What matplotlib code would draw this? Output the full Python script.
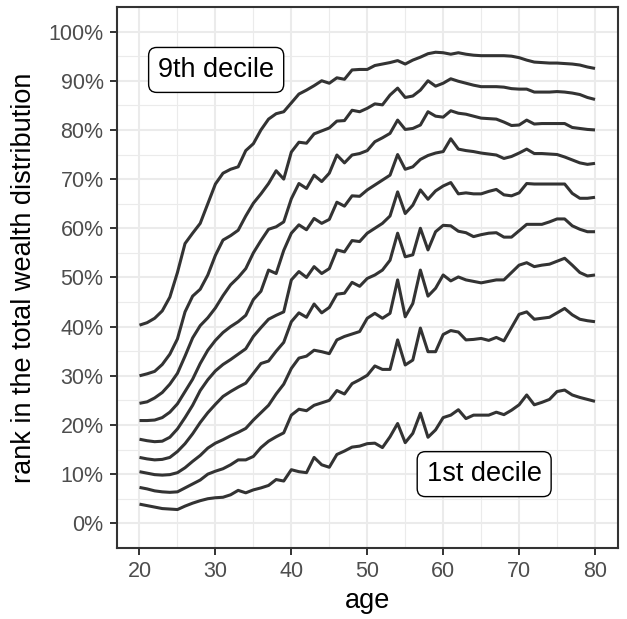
import matplotlib
matplotlib.use("Agg")
import matplotlib.pyplot as plt
import numpy as np
from matplotlib.ticker import MultipleLocator, FuncFormatter

plt.rcParams['font.family'] = ['Liberation Sans', 'DejaVu Sans']

ages = list(range(20, 81))

d1 = [3.9, 3.6, 3.3, 3.0, 2.9, 2.8, 3.5, 4.1, 4.6, 5.0,
      5.2, 5.3, 5.8, 6.7, 6.2, 6.8, 7.2, 7.7, 8.9, 8.6,
      10.9, 10.5, 10.3, 13.4, 11.9, 11.4, 14.0, 14.7, 15.5, 15.7,
      16.2, 16.3, 15.4, 17.6, 20.3, 16.4, 18.3, 22.4, 17.5, 19.0,
      21.5, 22.0, 23.1, 21.3, 22.0, 22.0, 22.0, 22.6, 22.1, 23.0,
      24.1, 26.1, 24.1, 24.6, 25.2, 26.8, 27.1, 26.1, 25.6, 25.2, 24.8]
d2 = [7.3, 7.0, 6.6, 6.4, 6.3, 6.4, 7.2, 8.0, 8.8, 10.0,
      10.6, 11.1, 11.9, 12.9, 12.9, 13.6, 15.4, 16.7, 17.6, 18.4,
      22.0, 23.2, 22.9, 24.0, 24.5, 25.0, 27.0, 26.3, 28.4, 29.2,
      30.1, 32.0, 31.3, 31.3, 37.3, 32.2, 33.2, 39.7, 34.9, 34.9,
      38.4, 39.2, 38.9, 37.3, 37.4, 37.6, 37.2, 37.8, 37.1, 39.8,
      42.5, 43.0, 41.5, 41.7, 41.9, 42.8, 43.7, 42.4, 41.5, 41.2, 41.0]
d3 = [10.5, 10.2, 9.9, 9.8, 9.9, 10.3, 11.3, 12.6, 13.8, 15.3,
      16.3, 17.0, 17.8, 18.5, 19.3, 21.0, 22.5, 24.0, 26.3, 28.3,
      31.5, 33.6, 34.0, 35.2, 34.9, 34.5, 37.3, 38.0, 38.5, 39.0,
      41.7, 42.7, 41.7, 42.7, 49.5, 42.0, 44.7, 51.5, 46.2, 47.8,
      50.5, 49.3, 50.1, 49.5, 49.2, 48.9, 49.2, 49.5, 49.5, 51.0,
      52.5, 53.0, 52.2, 52.5, 52.7, 53.3, 53.9, 52.5, 51.0, 50.3, 50.5]
d4 = [13.4, 13.1, 12.9, 13.0, 13.4, 14.6, 16.2, 18.2, 20.5, 22.5,
      24.2, 25.8, 26.8, 27.7, 28.5, 30.5, 32.5, 33.0, 35.0, 36.8,
      41.0, 42.8, 41.9, 44.6, 42.8, 43.9, 46.6, 46.8, 49.0, 48.2,
      49.8, 50.5, 51.5, 53.5, 59.0, 54.2, 54.6, 60.0, 55.6, 59.3,
      60.6, 60.5, 59.4, 59.1, 58.3, 58.7, 59.0, 59.1, 58.2, 58.2,
      59.5, 60.8, 60.8, 60.8, 61.3, 61.9, 61.9, 60.5, 59.8, 59.3, 59.3]
d5 = [17.1, 16.8, 16.6, 16.7, 17.5, 19.2, 21.5, 24.0, 27.0, 29.2,
      31.0, 32.3, 33.3, 34.4, 35.5, 38.0, 39.8, 41.5, 42.3, 43.0,
      49.5, 51.2, 50.0, 52.2, 50.8, 51.8, 55.6, 55.2, 57.5, 57.3,
      59.0, 60.0, 61.0, 62.5, 67.4, 63.0, 64.7, 67.8, 65.9, 67.6,
      68.6, 69.3, 67.0, 67.2, 67.0, 67.0, 67.5, 67.9, 66.8, 66.6,
      67.2, 69.1, 69.0, 69.0, 69.0, 69.0, 69.0, 67.1, 66.1, 66.1, 66.3]
d6 = [20.9, 20.9, 21.0, 21.5, 22.6, 24.3, 26.8, 29.3, 32.5, 35.2,
      37.2, 38.8, 40.0, 41.0, 42.3, 45.5, 47.2, 51.5, 50.8, 55.5,
      59.0, 60.7, 59.7, 62.0, 61.0, 61.8, 65.3, 64.5, 66.6, 66.5,
      67.8, 68.8, 69.8, 70.8, 75.0, 72.0, 72.5, 74.0, 74.8, 75.3,
      75.6, 78.2, 76.1, 75.8, 75.6, 75.3, 75.1, 74.9, 74.2, 74.6,
      75.3, 76.1, 75.2, 75.2, 75.1, 75.0, 74.5, 73.9, 73.3, 73.0, 73.2]
d7 = [24.4, 24.7, 25.5, 26.6, 28.3, 30.5, 34.0, 37.7, 40.2, 41.8,
      43.8, 46.3, 48.5, 50.0, 51.8, 55.0, 57.5, 59.8, 60.3, 61.3,
      66.0, 69.1, 68.1, 70.8, 69.5, 71.2, 74.9, 73.3, 74.9, 75.2,
      75.8, 77.6, 78.4, 79.3, 82.0, 80.1, 80.3, 81.0, 83.7, 82.8,
      82.6, 83.9, 83.4, 83.2, 82.8, 82.4, 82.3, 82.2, 81.6, 80.9,
      81.0, 82.0, 81.2, 81.3, 81.3, 81.3, 81.3, 80.5, 80.3, 80.1, 80.0]
d8 = [30.0, 30.4, 30.9, 32.3, 34.4, 37.5, 43.0, 46.2, 47.6, 50.5,
      54.5, 57.6, 58.5, 59.6, 62.5, 65.1, 67.0, 69.1, 71.7, 70.0,
      75.5, 77.5, 77.3, 79.2, 79.8, 80.4, 81.8, 81.9, 84.0, 83.7,
      84.4, 85.3, 85.1, 87.1, 88.5, 86.6, 86.9, 88.1, 90.0, 88.9,
      89.5, 90.4, 89.9, 89.5, 89.1, 88.8, 88.8, 88.8, 88.7, 88.4,
      88.3, 88.3, 87.7, 87.7, 87.7, 87.8, 87.7, 87.5, 87.2, 86.6, 86.2]
d9 = [40.3, 40.8, 41.7, 43.2, 46.0, 51.0, 56.9, 59.0, 61.0, 65.0,
      69.0, 71.2, 72.0, 72.5, 75.8, 77.2, 80.0, 82.2, 83.3, 83.7,
      85.5, 87.3, 88.1, 89.0, 90.0, 89.5, 90.6, 90.3, 92.2, 92.3,
      92.3, 93.1, 93.4, 93.7, 94.1, 93.4, 94.2, 94.8, 95.5, 95.8,
      95.7, 95.4, 95.7, 95.4, 95.2, 95.1, 95.1, 95.1, 95.1, 95.0,
      94.7, 94.2, 93.8, 93.7, 93.6, 93.6, 93.5, 93.4, 93.2, 92.8, 92.5]

series = [d1, d2, d3, d4, d5, d6, d7, d8, d9]

label_top = "9th decile"
label_bottom = "1st decile"
xlabel = "age"
ylabel = "rank in the total wealth distribution"

W, H = 627, 619
fig = plt.figure(figsize=(W / 100, H / 100), dpi=100)
ax = fig.add_axes([116.7 / W, (H - 547.9) / H, (617.8 - 116.7) / W, (547.9 - 7.0) / H])

dark = '#333333'
for s in series:
    ax.plot(ages, np.array(s) / 100.0, color=dark, lw=2.2, solid_joinstyle='round',
            solid_capstyle='butt', zorder=3)

ax.set_xlim(17, 83)
ax.set_ylim(-0.05, 1.05)
ax.xaxis.set_major_locator(MultipleLocator(10))
ax.xaxis.set_minor_locator(MultipleLocator(5))
ax.yaxis.set_major_locator(MultipleLocator(0.1))
ax.yaxis.set_minor_locator(MultipleLocator(0.05))
ax.yaxis.set_major_formatter(FuncFormatter(lambda v, p: f"{v*100:.0f}%"))

ax.grid(which='major', color='#EBEBEB', lw=1.5, zorder=0)
ax.grid(which='minor', color='#EBEBEB', lw=0.8, zorder=0)
ax.set_axisbelow(True)

for sp in ax.spines.values():
    sp.set_color(dark)
    sp.set_linewidth(1.5)

ax.tick_params(which='major', length=5, width=1.4, color=dark, labelcolor='#4D4D4D',
               labelsize=15.5, pad=4.5)
ax.tick_params(which='minor', length=0)

ax.set_xlabel(xlabel, fontsize=19.5, color='black', labelpad=4)
ax.set_ylabel(ylabel, fontsize=19.5, color='black', labelpad=8)

bbox = dict(boxstyle='round,pad=0.35,rounding_size=0.3', fc='white', ec='black', lw=1.0)
ax.text(30.1, 0.922, label_top, fontsize=19.5, ha='center', va='center', bbox=bbox, zorder=5)
ax.text(65.4, 0.100, label_bottom, fontsize=19.5, ha='center', va='center', bbox=bbox, zorder=5)

fig.savefig("out.png", dpi=100)
